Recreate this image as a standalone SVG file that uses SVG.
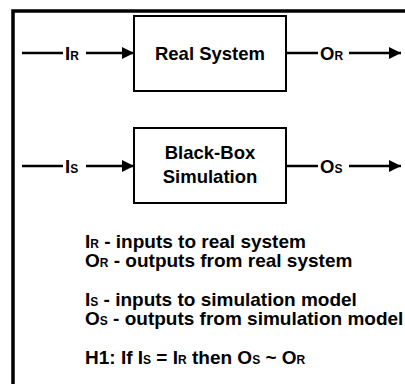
<svg xmlns="http://www.w3.org/2000/svg" width="405" height="384" viewBox="0 0 405 384">
  <style>
    .frame { fill: none; stroke: #000; stroke-width: 3.5; }
    .box { fill: #fff; stroke: #000; stroke-width: 2; }
    .wire { stroke: #000; stroke-width: 2.5; fill: none; }
    .t { font-family: "Liberation Sans", Arial, sans-serif; font-weight: bold; fill: #000; }
    .big { font-size: 18.5px; }
    .leg { font-size: 19px; }
    .sub { font-size: 12px; }
  </style>
  <defs>
    <marker id="arrow" viewBox="0 0 12 12" refX="12" refY="6" markerWidth="12" markerHeight="12" markerUnits="userSpaceOnUse" orient="auto">
      <path d="M0,0 L12,6 L0,12 z" fill="#000"/>
    </marker>
  </defs>
  <rect width="405" height="384" fill="#fff"/>
  <!-- outer frame (open to the right and bottom) -->
  <polyline class="frame" points="13,384 13,11 405,11"/>

  <g id="connectors">
    <!-- real system input / output -->
    <line class="wire" x1="22" y1="53" x2="63" y2="53"/>
    <line class="wire" x1="86" y1="53" x2="134" y2="53" marker-end="url(#arrow)"/>
    <line class="wire" x1="286" y1="53" x2="318" y2="53"/>
    <line class="wire" x1="349" y1="53" x2="401" y2="53" marker-end="url(#arrow)"/>
    <!-- simulation input / output -->
    <line class="wire" x1="22" y1="166" x2="63" y2="166"/>
    <line class="wire" x1="86" y1="166" x2="134" y2="166" marker-end="url(#arrow)"/>
    <line class="wire" x1="286" y1="166" x2="318" y2="166"/>
    <line class="wire" x1="349" y1="166" x2="401" y2="166" marker-end="url(#arrow)"/>
    <!-- signal labels -->
    <text class="t big" x="65" y="60">I<tspan class="sub">R</tspan></text>
    <text class="t big" x="320" y="60">O<tspan class="sub">R</tspan></text>
    <text class="t big" x="65" y="173">I<tspan class="sub">S</tspan></text>
    <text class="t big" x="320" y="173">O<tspan class="sub">S</tspan></text>
  </g>

  <g id="real-system">
    <rect class="box" x="134" y="16" width="152" height="75"/>
    <text class="t big" x="210" y="60" text-anchor="middle">Real System</text>
  </g>

  <g id="black-box-simulation">
    <rect class="box" x="134" y="128" width="152" height="75"/>
    <text class="t big" x="210" y="159" text-anchor="middle">Black-Box</text>
    <text class="t big" x="210" y="183" text-anchor="middle">Simulation</text>
  </g>

  <g id="legend">
    <text class="t leg" x="85" y="248">I<tspan class="sub">R</tspan> - inputs to real system</text>
    <text class="t leg" x="85" y="267">O<tspan class="sub">R</tspan> - outputs from real system</text>
    <text class="t leg" x="85" y="306">I<tspan class="sub">S</tspan> - inputs to simulation model</text>
    <text class="t leg" x="85" y="325">O<tspan class="sub">S</tspan> - outputs from simulation model</text>
    <text class="t leg" x="85" y="364">H1: If I<tspan class="sub">S</tspan> = I<tspan class="sub">R</tspan> then O<tspan class="sub">S</tspan> ~ O<tspan class="sub">R</tspan></text>
  </g>
</svg>
